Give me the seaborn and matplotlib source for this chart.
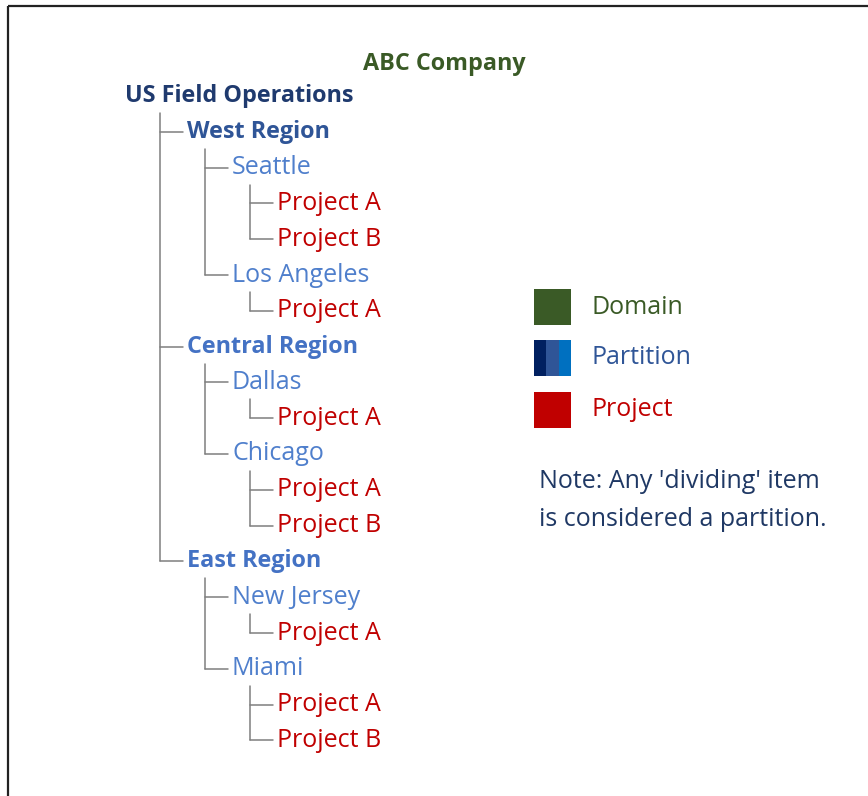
import matplotlib
matplotlib.use("Agg")
import matplotlib.pyplot as plt
from matplotlib.patches import Rectangle
import seaborn as sns

# tree data (outline order)
title = "ABC Company"
nodes = ["US Field Operations",
         "West Region", "Seattle", "Project A", "Project B",
         "Los Angeles", "Project A",
         "Central Region", "Dallas", "Project A",
         "Chicago", "Project A", "Project B",
         "East Region", "New Jersey", "Project A",
         "Miami", "Project A", "Project B"]
levels = [0, 1, 2, 3, 3, 2, 3, 1, 2, 3, 2, 3, 3, 1, 2, 3, 2, 3, 3]

legend_labels = ["Domain", "Partition", "Project"]
note_lines = ["Note: Any 'dividing' item", "is considered a partition."]

# colours
green = "#3a5a26"
navy = "#1f3864"
red = "#c00000"
partition_shades = ["#002060", "#2f5597", "#0070c0"]
level_colors = {0: "#1f3a6e", 1: "#4472c4", 2: "#4f7fcc", 3: red}
special_colors = {"West Region": "#2f5597"}
line_color = "#7f7f7f"

sns.set_theme(style="white")
plt.rcParams["font.family"] = ["Open Sans", "DejaVu Sans"]

fig = plt.figure(figsize=(8.68, 7.96), dpi=100)
ax = fig.add_axes([0, 0, 1, 1])
ax.set_xlim(0, 868)
ax.set_ylim(796, 0)
ax.axis("off")

# frame (top and left edges)
ax.plot([8, 868], [6, 6], color="#222222", lw=1.6, solid_capstyle="butt")
ax.plot([8, 8], [6, 796], color="#222222", lw=1.6, solid_capstyle="butt")

fs = 18
fs_bold = 16.8
ax.text(444, 64, title, ha="center", va="center", fontsize=fs_bold,
        fontweight="bold", color=green)

x0 = 125
indents = [0, 62, 107, 152]
row_y0, row_step = 96, 35.8

def row_y(i):
    return row_y0 + row_step * i

for i, (name, lev) in enumerate(zip(nodes, levels)):
    y = row_y(i)
    x = x0 + indents[lev]
    color = special_colors.get(name, level_colors[lev])
    bold = lev <= 1
    ax.text(x, y, name, ha="left", va="center",
            fontsize=fs_bold if bold else fs,
            fontweight="bold" if bold else "normal", color=color)
    # connectors to children
    kids = []
    for j in range(i + 1, len(nodes)):
        if levels[j] <= lev:
            break
        if levels[j] == lev + 1:
            kids.append(j)
    if kids:
        vx = x0 + indents[lev + 1] - 27
        ax.plot([vx, vx], [y + 17, row_y(kids[-1])], color=line_color, lw=1.1)
        for k in kids:
            ax.plot([vx, vx + 23], [row_y(k), row_y(k)], color=line_color, lw=1.1)

# legend
sq_x, sq_w = 534, 37
legend_y = [307, 358, 410]
legend_colors = [green, "#2f5597", red]
for lab, ly, lc in zip(legend_labels, legend_y, legend_colors):
    if lab == "Partition":
        w = sq_w / len(partition_shades)
        for s, shade in enumerate(partition_shades):
            ax.add_patch(Rectangle((sq_x + s * w, ly - 18), w, 36, color=shade, lw=0))
    else:
        ax.add_patch(Rectangle((sq_x, ly - 18), sq_w, 36, color=lc, lw=0))
    ax.text(592, ly, lab, ha="left", va="center", fontsize=fs, color=lc)

for n, line in enumerate(note_lines):
    ax.text(539, 482 + 38 * n, line, ha="left", va="center", fontsize=fs, color=navy)

fig.savefig("out.png", dpi=100, facecolor="white")
